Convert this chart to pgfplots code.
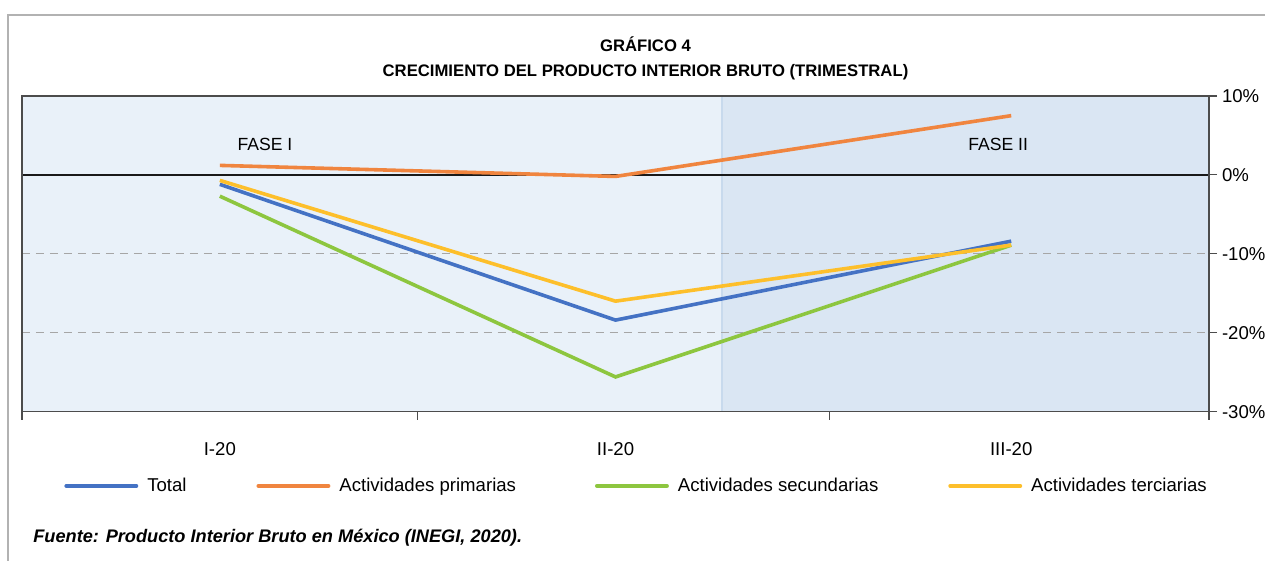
\documentclass[border=0pt]{standalone}
\usepackage{fontspec}
\setmainfont{Liberation Sans}
\usepackage{pgfplots}
\pgfplotsset{compat=1.18}
\definecolor{bgL}{HTML}{E9F1F9}
\definecolor{bgD}{HTML}{DAE6F3}
\definecolor{bgEdge}{HTML}{C8DAED}
\definecolor{cTot}{HTML}{4472C4}
\definecolor{cPri}{HTML}{F0853F}
\definecolor{cSec}{HTML}{8DC63F}
\definecolor{cTer}{HTML}{FDBF2B}
\begin{document}
\begin{tikzpicture}
  \path (0pt,0pt) rectangle (633pt,280.5pt);
  % frame of the page
  \draw[gray!60, line width=1pt] (4pt,0pt) -- (4pt,273pt) -- (633pt,273pt);
  \node[font=\bfseries\fontsize{8.35}{10}\selectfont] at (323pt,258.5pt) {GRÁFICO 4};
  \node[font=\bfseries\fontsize{8.35}{10}\selectfont] at (323pt,244.5pt) {CRECIMIENTO DEL PRODUCTO INTERIOR BRUTO (TRIMESTRAL)};
  \node[anchor=west, inner sep=0pt, font=\bfseries\itshape\fontsize{9.1}{11}\selectfont] at (16.5pt,11.5pt) {Fuente: Producto Interior Bruto en México (INEGI, 2020).};
  \begin{axis}[
      set layers,
      at={(11pt,74.5pt)}, anchor=south west,
      scale only axis, width=594pt, height=158pt,
      xmin=-0.5, xmax=2.5, ymin=-30, ymax=10,
      axis background/.style={fill=bgL},
      axis line style={black!70, line width=0.6pt},
      tick align=outside,
      xtick={-0.5,0.5,1.54,2.5}, xticklabels={},
      xtick pos=bottom,
      extra x ticks={0,1,2}, extra x tick labels={I-20,II-20,III-20},
      extra x tick style={major tick length=0pt},
      xtick style={black!70, line width=0.6pt},
      xticklabel style={yshift=-12pt},
      major tick length=4pt,
      ytick={-30,-20,-10,0,10},
      yticklabels={-30\%,-20\%,-10\%,0\%,10\%},
      ytick pos=right, yticklabel pos=right,
      ytick style={black!70, line width=0.6pt},
      yticklabel style={inner xsep=0pt, xshift=2.3pt},
      tick label style={font=\fontsize{9.3}{11}\selectfont},
      legend columns=4,
      legend style={draw=none, fill=none, at={(0.0303,-0.235)}, anchor=west,
        font=\fontsize{9.3}{11}\selectfont,
        /tikz/column 1/.style={column sep=2.5pt},
        /tikz/column 2/.style={column sep=33pt},
        /tikz/column 3/.style={column sep=2.5pt},
        /tikz/column 4/.style={column sep=37.5pt},
        /tikz/column 5/.style={column sep=2.5pt},
        /tikz/column 6/.style={column sep=33pt},
        /tikz/column 7/.style={column sep=2.5pt}},
      legend image code/.code={\draw[#1, line width=2pt, line cap=round] (0pt,0pt) -- (35pt,0pt);},
    ]
    \begin{pgfonlayer}{axis background}
      \fill[bgD] (axis cs:1.268,-30) rectangle (axis cs:2.5,10);
      \draw[bgEdge, line width=1pt] (axis cs:1.268,-30) -- (axis cs:1.268,10);
      \draw[black!35, line width=0.6pt, dash pattern=on 4pt off 3pt] (axis cs:-0.5,-10) -- (axis cs:2.5,-10);
      \draw[black!35, line width=0.6pt, dash pattern=on 4pt off 3pt] (axis cs:-0.5,-20) -- (axis cs:2.5,-20);
      \draw[black!90, line width=1pt] (axis cs:-0.5,0) -- (axis cs:2.5,0);
    \end{pgfonlayer}
    \addplot[cTot, line width=1.8pt, mark=none] coordinates {(0,-1.2) (1,-18.4) (2,-8.4)};
    \addlegendentry{Total}
    \addplot[cPri, line width=1.8pt, mark=none] coordinates {(0,1.2) (1,-0.2) (2,7.5)};
    \addlegendentry{Actividades primarias}
    \addplot[cSec, line width=1.8pt, mark=none] coordinates {(0,-2.7) (1,-25.6) (2,-8.9)};
    \addlegendentry{Actividades secundarias}
    \addplot[cTer, line width=1.8pt, mark=none] coordinates {(0,-0.7) (1,-16.0) (2,-8.9)};
    \addlegendentry{Actividades terciarias}
    \node[font=\fontsize{8.8}{10}\selectfont] at (axis cs:0.114,3.9) {FASE I};
    \node[font=\fontsize{8.8}{10}\selectfont] at (axis cs:1.967,3.9) {FASE II};
  \end{axis}
\end{tikzpicture}
\end{document}
